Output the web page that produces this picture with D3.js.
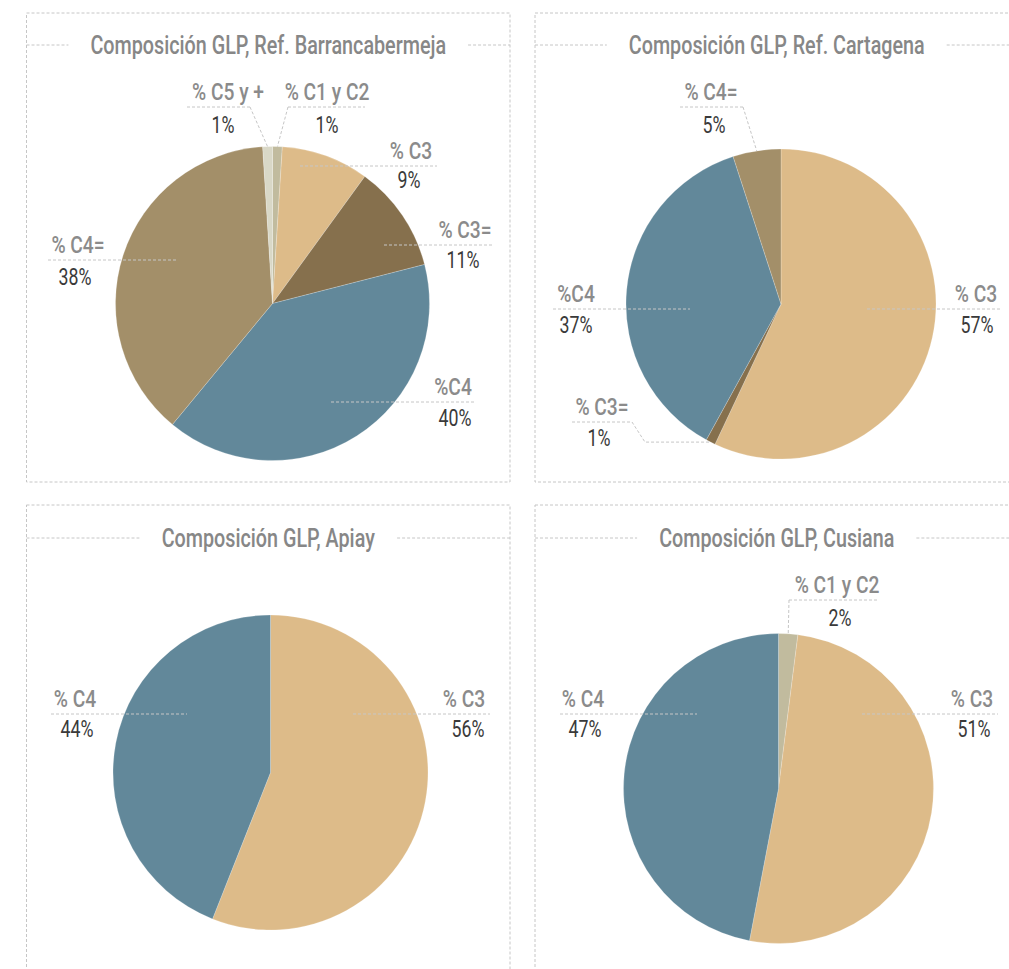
<!DOCTYPE html>
<html><head><meta charset="utf-8">
<script src="https://cdn.jsdelivr.net/npm/d3@7"></script>
<style>
html,body{margin:0;padding:0;background:#fff;}
svg{display:block;}
text{font-family:Roboto,"Liberation Sans",sans-serif;}
</style></head><body>
<svg id="chart" width="1009" height="969"></svg>
<script>
// ---------- DATA ----------
const titles = [
  "Composición GLP, Ref. Barrancabermeja",
  "Composición GLP, Ref. Cartagena",
  "Composición GLP, Apiay",
  "Composición GLP, Cusiana"
];
// categories (clockwise from 12 o'clock)
const barrancaCats   = ["C1yC2","C3","C3=","C4","C4=","C5y+"];
const barrancaNames  = ["% C1 y C2","% C3","% C3=","%C4","% C4=","% C5 y +"];
const barrancaValues = [1, 9, 11, 40, 38, 1];

const cartagenaCats   = ["C3","C3=","C4","C4="];
const cartagenaNames  = ["% C3","% C3=","%C4","% C4="];
const cartagenaValues = [57, 1, 37, 5];

const apiayCats   = ["C3","C4"];
const apiayNames  = ["% C3","% C4"];
const apiayValues = [56, 44];

const cusianaCats   = ["C1yC2","C3","C4"];
const cusianaNames  = ["% C1 y C2","% C3","% C4"];
const cusianaValues = [2, 51, 47];

// ---------- STYLE ----------
const colorOf = {
  "C1yC2":"#c1bb9e","C3":"#ddbb89","C3=":"#86704d",
  "C4":"#62889a","C4=":"#a38f69","C5y+":"#d9d8c7"
};
const nameColor = "#8b8b8b", valueColor = "#3a3a3a", dashColor = "#c6c6c6";
const titleStyle = {size:26, weight:500, fill:"#878787", sx:0.76};
const nameStyle  = {size:24, weight:500, fill:nameColor, sx:0.8};
const valueStyle = {size:24, weight:400, fill:valueColor, sx:0.74};

// ---------- LAYOUT ----------
const panels = [
  {box:[26.5,13,483.5,469], titleY:45, cx:272.5, cy:303.5, r:157,
   cats:barrancaCats, names:barrancaNames, values:barrancaValues,
   labels:[
     {nx:327, ny:100, vx:327, vy:133, u:[288,365], leader:{from:"x1"}},
     {nx:411, ny:159, vx:409, vy:188, u:[300,437]},
     {nx:465, ny:238, vx:463, vy:268, u:[384,493]},
     {nx:453, ny:395, vx:455, vy:426, u:[331,476]},
     {nx:78,  ny:253, vx:75,  vy:285, u:[48,178]},
     {nx:228, ny:100, vx:223, vy:133, u:[187,250], leader:{from:"x2"}}
   ]},
  {box:[535,13,483.5,469], titleY:45, cx:781, cy:304, r:155,
   cats:cartagenaCats, names:cartagenaNames, values:cartagenaValues,
   labels:[
     {nx:976, ny:302, vx:977, vy:333, u:[867,1002]},
     {nx:602, ny:415, vx:599, vy:446, u:[572,632], leader:{from:"x2", elbowX:645}},
     {nx:576, ny:302, vx:576, vy:333, u:[553,690]},
     {nx:711, ny:100, vx:714, vy:133, u:[680,743], leader:{from:"x2"}}
   ]},
  {box:[26.5,505,483.5,500], titleY:538, cx:270.5, cy:772.5, r:157.5,
   cats:apiayCats, names:apiayNames, values:apiayValues,
   labels:[
     {nx:464, ny:707, vx:468, vy:737, u:[353,490]},
     {nx:75,  ny:707, vx:77,  vy:737, u:[51,187]}
   ]},
  {box:[535,505,483.5,500], titleY:538, cx:778.5, cy:788.5, r:155,
   cats:cusianaCats, names:cusianaNames, values:cusianaValues,
   labels:[
     {nx:837, ny:593, vx:840, vy:626, u:[789,877], leader:{from:"x1"}},
     {nx:972, ny:707, vx:974, vy:737, u:[862,998]},
     {nx:583, ny:707, vx:585, vy:737, u:[560,697]}
   ]}
];

const svg = d3.select("#chart");
const pie = d3.pie().sort(null).value(d => d.v).startAngle(0).endAngle(2*Math.PI);

function addText(g, x, y, str, st) {
  return g.append("text")
    .attr("transform", `translate(${x},${y}) scale(${st.sx},1)`)
    .attr("text-anchor","middle").attr("fill",st.fill)
    .attr("font-size",st.size).attr("font-weight",st.weight).text(str);
}

panels.forEach((p, pi) => {
  const g = svg.append("g");
  const [bx,by,bw,bh] = p.box;
  g.append("rect").attr("x",bx).attr("y",by).attr("width",bw).attr("height",bh)
    .attr("fill","none").attr("stroke",dashColor).attr("stroke-width",1)
    .attr("stroke-dasharray","3,2");

  const tcx = bx + bw/2;
  const title = addText(g, tcx, p.titleY + 9, titles[pi], titleStyle);
  const tw = title.node().getBBox().width * titleStyle.sx;
  const gap = 22;
  g.append("line").attr("x1",bx).attr("x2",tcx - tw/2 - gap).attr("y1",p.titleY).attr("y2",p.titleY)
    .attr("stroke",dashColor).attr("stroke-dasharray","3,2");
  g.append("line").attr("x1",tcx + tw/2 + gap).attr("x2",bx+bw).attr("y1",p.titleY).attr("y2",p.titleY)
    .attr("stroke",dashColor).attr("stroke-dasharray","3,2");

  const data = p.values.map((v,i) => ({v, cat:p.cats[i], name:p.names[i]}));
  const arcs = pie(data);
  const arc = d3.arc().innerRadius(0).outerRadius(p.r);
  const pg = g.append("g").attr("transform",`translate(${p.cx},${p.cy})`);
  pg.selectAll("path").data(arcs).join("path")
    .attr("d",arc).attr("fill",d => colorOf[d.data.cat])
    .attr("stroke","#ffffff").attr("stroke-opacity",0.35).attr("stroke-width",0.6);

  arcs.forEach((a,i) => {
    const L = p.labels[i];
    const uy = L.ny + 7;
    g.append("line").attr("x1",L.u[0]).attr("x2",L.u[1]).attr("y1",uy).attr("y2",uy)
      .attr("stroke",dashColor).attr("stroke-dasharray","3,2");
    if (L.leader) {
      const mid = (a.startAngle + a.endAngle)/2;
      const ex = p.cx + p.r*Math.sin(mid), ey = p.cy - p.r*Math.cos(mid);
      const sx = L.leader.from === "x1" ? L.u[0] : L.u[1];
      const pts = [[sx,uy]];
      if (L.leader.elbowX !== undefined) pts.push([L.leader.elbowX, ey]);
      pts.push([ex,ey]);
      g.append("path").attr("d",d3.line()(pts)).attr("fill","none")
        .attr("stroke",dashColor).attr("stroke-dasharray","3,2");
    }
    addText(g, L.nx, L.ny, a.data.name, nameStyle);
    addText(g, L.vx, L.vy, a.data.v + "%", valueStyle);
  });
});
</script>
</body></html>
